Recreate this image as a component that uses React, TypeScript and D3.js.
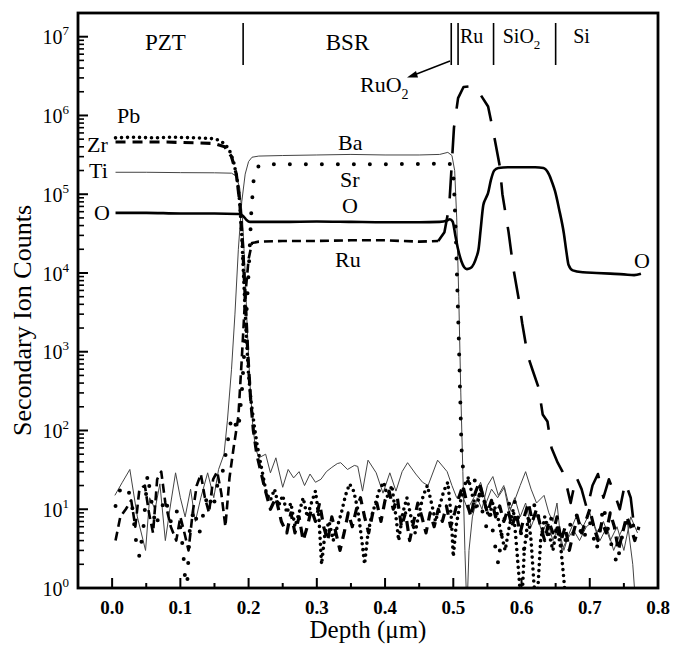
import React from "react";
import * as d3 from "d3";

type Pt = [number, number];

// depth (um), counts
const pb: Pt[] = [
  [0.005, 5.2e5], [0.03, 5.3e5], [0.06, 5.2e5], [0.09, 5.3e5], [0.12, 5.2e5], [0.145, 5.1e5],
  [0.155, 4.9e5], [0.165, 4.4e5], [0.172, 3.6e5], [0.178, 2.6e5], [0.183, 1.6e5], [0.187, 8e4],
  [0.19, 3e4], [0.193, 8e3], [0.196, 2e3], [0.2, 500], [0.204, 220], [0.208, 120], [0.212, 70],
  [0.216, 45], [0.22, 30], [0.226, 16], [0.232, 13], [0.238, 18], [0.244, 11], [0.25, 15],
  [0.256, 9], [0.262, 12], [0.268, 6], [0.274, 9], [0.28, 14], [0.286, 8], [0.292, 12],
  [0.298, 17], [0.303, 8], [0.307, 2], [0.312, 5], [0.318, 7], [0.324, 4], [0.33, 6], [0.336, 9],
  [0.342, 15], [0.348, 21], [0.354, 17], [0.36, 10], [0.366, 4], [0.37, 2], [0.375, 5], [0.38, 8],
  [0.386, 12], [0.392, 18], [0.398, 22], [0.404, 14], [0.41, 20], [0.416, 8], [0.42, 4], [0.426, 9],
  [0.432, 14], [0.438, 8], [0.444, 5], [0.45, 9], [0.456, 15], [0.462, 20], [0.468, 12], [0.474, 7],
  [0.48, 11], [0.486, 17], [0.492, 22], [0.497, 8], [0.5, 2.5], [0.504, 6], [0.51, 12], [0.516, 20],
  [0.522, 25], [0.528, 15], [0.534, 10], [0.54, 18], [0.546, 12], [0.552, 8], [0.558, 12], [0.564, 9],
  [0.57, 5], [0.576, 3], [0.582, 6], [0.588, 10], [0.592, 4], [0.596, 1.5], [0.6, 0.5], [0.604, 3],
  [0.61, 8], [0.614, 4], [0.618, 1.2], [0.622, 0.5], [0.628, 4], [0.634, 8], [0.64, 5], [0.646, 3],
  [0.652, 6], [0.658, 3], [0.662, 1.3], [0.666, 0.5],
];

const zr: Pt[] = [
  [0.005, 4.6e5], [0.04, 4.6e5], [0.08, 4.6e5], [0.12, 4.5e5], [0.15, 4.4e5], [0.165, 4.0e5],
  [0.175, 3.0e5], [0.182, 1.8e5], [0.187, 8e4], [0.191, 2.5e4], [0.195, 5e3], [0.199, 900],
  [0.203, 250], [0.207, 100], [0.212, 50], [0.218, 30], [0.224, 18], [0.232, 10], [0.24, 14],
  [0.248, 7], [0.256, 5], [0.262, 9], [0.268, 5], [0.274, 8], [0.28, 4], [0.286, 6], [0.292, 10],
  [0.298, 7], [0.304, 12], [0.31, 6], [0.316, 4], [0.322, 8], [0.328, 5], [0.334, 3], [0.34, 5],
  [0.346, 9], [0.352, 6], [0.358, 10], [0.364, 14], [0.37, 8], [0.376, 5], [0.382, 9], [0.388, 12],
  [0.394, 7], [0.4, 13], [0.406, 17], [0.412, 10], [0.418, 14], [0.424, 6], [0.43, 9], [0.436, 4],
  [0.442, 7], [0.448, 12], [0.454, 8], [0.46, 5], [0.466, 9], [0.472, 6], [0.478, 10], [0.484, 7],
  [0.49, 11], [0.496, 6], [0.502, 9], [0.508, 14], [0.514, 20], [0.52, 12], [0.526, 8], [0.532, 16],
  [0.538, 22], [0.544, 14], [0.55, 9], [0.556, 13], [0.562, 8], [0.568, 11], [0.574, 7], [0.58, 10],
  [0.586, 6], [0.592, 9], [0.598, 5], [0.604, 8], [0.61, 12], [0.616, 7], [0.622, 10], [0.628, 6],
  [0.634, 4], [0.64, 7], [0.646, 5], [0.652, 8], [0.658, 4], [0.664, 6], [0.67, 3], [0.676, 5],
  [0.682, 8], [0.688, 5], [0.694, 7], [0.7, 10], [0.706, 6], [0.712, 4], [0.718, 7], [0.724, 5],
  [0.73, 9], [0.736, 6], [0.742, 3], [0.748, 5], [0.754, 8], [0.76, 6], [0.766, 4], [0.772, 6],
];

const ti: Pt[] = [
  [0.005, 1.9e5], [0.05, 1.9e5], [0.1, 1.88e5], [0.15, 1.87e5], [0.175, 1.85e5], [0.182, 1.7e5],
  [0.187, 1.2e5], [0.191, 5e4], [0.195, 1e4], [0.198, 2e3], [0.202, 400], [0.206, 120], [0.21, 60],
  [0.215, 45], [0.225, 50], [0.232, 29], [0.24, 45], [0.25, 19], [0.258, 32], [0.266, 25],
  [0.274, 30], [0.282, 20], [0.29, 28], [0.298, 22], [0.306, 24], [0.314, 30], [0.322, 34],
  [0.33, 38], [0.335, 39], [0.345, 32], [0.355, 36], [0.36, 35], [0.367, 17], [0.375, 42],
  [0.387, 29], [0.397, 16], [0.407, 29], [0.416, 17], [0.425, 30], [0.433, 39], [0.445, 28],
  [0.455, 22], [0.463, 20], [0.477, 42], [0.491, 30], [0.498, 20], [0.505, 14], [0.512, 16],
  [0.521, 10], [0.53, 14], [0.54, 22], [0.548, 12], [0.556, 18], [0.565, 14], [0.575, 19],
  [0.583, 10], [0.59, 13], [0.598, 20], [0.606, 30], [0.614, 18], [0.622, 12], [0.633, 15],
  [0.64, 9], [0.646, 7], [0.652, 12], [0.659, 3], [0.666, 4], [0.676, 5.5], [0.685, 4], [0.695, 6],
  [0.705, 7], [0.715, 4], [0.725, 6], [0.735, 3], [0.745, 5], [0.755, 7], [0.763, 2], [0.768, 0.5],
];

const ba: Pt[] = [
  [0.004, 15], [0.015, 22], [0.026, 32], [0.037, 8], [0.049, 3], [0.055, 14], [0.063, 10],
  [0.07, 21], [0.078, 4], [0.086, 12], [0.093, 29], [0.1, 14], [0.107, 8], [0.115, 18], [0.122, 7],
  [0.13, 14], [0.14, 29], [0.149, 14], [0.156, 32], [0.164, 50], [0.169, 135], [0.175, 600],
  [0.18, 3000], [0.185, 2e4], [0.19, 8e4], [0.195, 1.8e5], [0.2, 2.6e5], [0.205, 2.95e5],
  [0.215, 3.05e5], [0.25, 3.1e5], [0.3, 3.15e5], [0.35, 3.2e5], [0.4, 3.15e5], [0.45, 3.15e5],
  [0.48, 3.2e5], [0.492, 3.4e5], [0.498, 3.1e5], [0.502, 2e5], [0.505, 5e4], [0.508, 5e3],
  [0.511, 300], [0.514, 30], [0.517, 3], [0.52, 0.5], [0.523, 3], [0.528, 8], [0.535, 14],
  [0.542, 10], [0.55, 20], [0.558, 26], [0.566, 15], [0.574, 20], [0.582, 9], [0.59, 14],
  [0.598, 8], [0.606, 12], [0.614, 6], [0.622, 9], [0.63, 5], [0.638, 7], [0.646, 4], [0.654, 6],
  [0.662, 3], [0.67, 5], [0.68, 8], [0.69, 6], [0.7, 9], [0.71, 5], [0.72, 7], [0.73, 4],
  [0.74, 6], [0.75, 3], [0.76, 8], [0.77, 5],
];

const sr: Pt[] = [
  [0.005, 11], [0.012, 18], [0.02, 20], [0.028, 14], [0.035, 4], [0.04, 2.5], [0.046, 6],
  [0.052, 28], [0.058, 12], [0.064, 6], [0.07, 9], [0.078, 14], [0.086, 7], [0.094, 10], [0.1, 6],
  [0.104, 3], [0.107, 1.3], [0.11, 1.1], [0.114, 6], [0.12, 10], [0.128, 5], [0.134, 9], [0.14, 16],
  [0.148, 10], [0.155, 22], [0.162, 30], [0.168, 60], [0.175, 150], [0.185, 100], [0.19, 300],
  [0.195, 1500], [0.2, 1e4], [0.204, 6e4], [0.208, 1.8e5], [0.215, 2.3e5], [0.23, 2.4e5],
  [0.3, 2.4e5], [0.4, 2.4e5], [0.49, 2.45e5], [0.497, 2.4e5], [0.5, 1.8e5], [0.502, 8e4],
  [0.504, 2.5e4], [0.506, 6e3], [0.508, 1.5e3], [0.51, 300], [0.512, 60], [0.514, 35], [0.518, 30],
  [0.523, 20], [0.53, 25], [0.536, 18], [0.542, 10], [0.548, 6], [0.554, 9], [0.56, 4], [0.566, 2],
  [0.572, 6], [0.58, 11], [0.588, 15], [0.596, 7], [0.604, 3], [0.612, 8], [0.62, 12], [0.628, 6],
  [0.636, 4], [0.644, 8], [0.652, 5], [0.66, 3], [0.67, 6], [0.68, 9], [0.69, 4], [0.7, 7],
  [0.71, 3], [0.72, 11], [0.73, 4], [0.74, 2], [0.75, 6], [0.76, 8], [0.77, 4],
];

// Ru: PZT background + BSR level, then the Ru/RuO2 peak
const ruBsr: Pt[] = [
  [0.005, 4], [0.012, 8], [0.02, 10], [0.028, 13], [0.034, 6], [0.04, 18], [0.048, 20], [0.054, 9],
  [0.06, 5], [0.066, 24], [0.072, 30], [0.078, 12], [0.086, 6], [0.094, 4], [0.1, 8], [0.106, 5],
  [0.112, 3], [0.118, 9], [0.124, 20], [0.13, 28], [0.136, 14], [0.142, 9], [0.148, 24],
  [0.154, 30], [0.16, 16], [0.166, 6], [0.172, 25], [0.178, 60], [0.185, 150], [0.19, 800],
  [0.195, 5e3], [0.2, 1.5e4], [0.205, 2.4e4], [0.215, 2.5e4], [0.25, 2.55e4], [0.3, 2.55e4],
  [0.35, 2.6e4], [0.4, 2.6e4], [0.45, 2.5e4], [0.478, 2.55e4],
];

const ruPeak: Pt[] = [
  [0.478, 2.55e4], [0.487, 3.3e4], [0.494, 7e4], [0.501, 7e5], [0.507, 1.66e6], [0.515, 2.3e6],
  [0.526, 2.35e6], [0.534, 2.2e6], [0.551, 1.3e6], [0.559, 6e5], [0.568, 2.3e5], [0.572, 1e5],
  [0.581, 3.3e4], [0.588, 1.15e4], [0.596, 4.6e3], [0.601, 2.3e3], [0.609, 900], [0.616, 590],
  [0.625, 350], [0.631, 160], [0.638, 130], [0.644, 60], [0.653, 39], [0.66, 30], [0.665, 22],
  [0.672, 12], [0.68, 26], [0.688, 18], [0.696, 10], [0.704, 20], [0.712, 28], [0.72, 14],
  [0.728, 24], [0.736, 16], [0.744, 10], [0.752, 22], [0.76, 14], [0.765, 6], [0.77, 7],
];

const oxygen: Pt[] = [
  [0.005, 5.8e4], [0.05, 5.8e4], [0.1, 5.7e4], [0.15, 5.7e4], [0.185, 5.6e4], [0.192, 5.3e4],
  [0.197, 4.7e4], [0.202, 4.45e4], [0.25, 4.45e4], [0.3, 4.5e4], [0.35, 4.45e4], [0.4, 4.4e4],
  [0.45, 4.4e4], [0.48, 4.45e4], [0.49, 4.6e4], [0.495, 4.8e4], [0.499, 4.5e4], [0.503, 3e4],
  [0.507, 2e4], [0.512, 1.4e4], [0.516, 1.18e4], [0.52, 1.12e4], [0.525, 1.15e4], [0.53, 1.3e4],
  [0.534, 1.6e4], [0.537, 2e4], [0.54, 3.5e4], [0.544, 7.3e4], [0.548, 9e4], [0.551, 1.04e5],
  [0.555, 1.5e5], [0.56, 2e5], [0.566, 2.15e5], [0.58, 2.2e5], [0.6, 2.2e5], [0.62, 2.2e5],
  [0.632, 2.15e5], [0.64, 1.8e5], [0.645, 1.4e5], [0.649, 1.1e5], [0.655, 6.5e4], [0.662, 3.2e4],
  [0.666, 1.8e4], [0.669, 1.26e4], [0.675, 1.08e4], [0.69, 1.02e4], [0.71, 1.0e4], [0.73, 9.8e3],
  [0.75, 9.6e3], [0.765, 9.4e3], [0.775, 9.8e3],
];

const xTicks = [0, 0.1, 0.2, 0.3, 0.4, 0.5, 0.6, 0.7, 0.8];
const decades = [0, 1, 2, 3, 4, 5, 6, 7];
const layerBounds = [0.192, 0.497, 0.507, 0.559, 0.65];
const layerNames = [
  { name: "PZT", x: 0.078, sub: "" },
  { name: "BSR", x: 0.345, sub: "" },
  { name: "Ru", x: 0.527, sub: "" },
  { name: "SiO", x: 0.6, sub: "2" },
  { name: "Si", x: 0.688, sub: "" },
];

const W = 673, H = 648;
const L = 78, R = 658, T = 13, B = 588;

const x = d3.scaleLinear().domain([-0.05, 0.8]).range([L, R]);
const y = d3.scaleLog().domain([1, 2e7]).range([B, T]);

const line = d3.line<Pt>()
  .x(d => x(d[0]))
  .y(d => y(Math.max(d[1], 0.2)));

const smooth = d3.line<Pt>()
  .x(d => x(d[0]))
  .y(d => y(d[1]))
  .curve(d3.curveMonotoneX);

const font = "'Liberation Serif', 'Times New Roman', serif";

export default function App() {
  const minorY: number[] = [];
  decades.slice(0, -1).forEach(k => {
    for (let m = 2; m <= 9; m++) minorY.push(m * 10 ** k);
  });
  const minorX = d3.range(-0.05, 0.8, 0.1).filter(v => v > -0.04);

  const series = [
    { d: ti, stroke: "#444", w: 1, dash: undefined as string | undefined, cap: "butt" },
    { d: ba, stroke: "#444", w: 1, dash: undefined, cap: "butt" },
    { d: sr, stroke: "#000", w: 4, dash: "0 16", cap: "round" },
    { d: pb, stroke: "#000", w: 3.6, dash: "0 6", cap: "round" },
    { d: zr, stroke: "#000", w: 3.2, dash: "10 7", cap: "butt" },
    { d: ruBsr, stroke: "#000", w: 2.6, dash: "9 5", cap: "butt" },
    { d: ruPeak, stroke: "#000", w: 2.6, dash: "28 17", cap: "butt" },
  ];

  return (
    <svg width={W} height={H} style={{ position: "absolute", left: 0, top: 0, background: "#fff" }}
      fontFamily={font}>
      <defs>
        <clipPath id="plot">
          <rect x={L} y={T} width={R - L} height={B - T} />
        </clipPath>
      </defs>
      <rect width={W} height={H} fill="#fff" />

      <g clipPath="url(#plot)" fill="none">
        {series.map((s, i) => (
          <path key={i} d={line(s.d) || ""} stroke={s.stroke} strokeWidth={s.w}
            strokeDasharray={s.dash} strokeLinecap={s.cap as any} strokeLinejoin="round" />
        ))}
        <path d={smooth(oxygen) || ""} stroke="#000" strokeWidth={2.6} />
      </g>

      {/* frame */}
      <rect x={L} y={T} width={R - L} height={B - T} fill="none" stroke="#000" strokeWidth={2.8} />

      {/* y ticks */}
      {decades.map(k => (
        <g key={k}>
          <line x1={L} x2={L + 10} y1={y(10 ** k)} y2={y(10 ** k)} stroke="#000" strokeWidth={2} />
          <text x={69} y={y(10 ** k)} dy="0.38em" textAnchor="end" fontSize={20}>
            10<tspan dy={-9} fontSize={13}>{k}</tspan>
          </text>
        </g>
      ))}
      {minorY.map((v, i) => (
        <line key={i} x1={L} x2={L + 6} y1={y(v)} y2={y(v)} stroke="#000" strokeWidth={1.6} />
      ))}

      {/* x ticks */}
      {xTicks.map(t => (
        <g key={t}>
          <line x1={x(t)} x2={x(t)} y1={B} y2={B - 10} stroke="#000" strokeWidth={2} />
          <text x={x(t)} y={614} textAnchor="middle" fontSize={19} fontWeight="bold">
            {d3.format(".1f")(t)}
          </text>
        </g>
      ))}
      {minorX.map((t, i) => (
        <line key={i} x1={x(t)} x2={x(t)} y1={B} y2={B - 5} stroke="#000" strokeWidth={2} />
      ))}

      {/* axis titles */}
      <text x={368} y={638} textAnchor="middle" fontSize={25}>Depth (μm)</text>
      <text transform={`translate(31,${(T + B) / 2 + 20}) rotate(-90)`} textAnchor="middle" fontSize={26}>
        Secondary Ion Counts
      </text>

      {/* layer labels */}
      {layerBounds.map((b, i) => (
        <line key={i} x1={x(b)} x2={x(b)} y1={23} y2={65} stroke="#000" strokeWidth={1.6} />
      ))}
      {layerNames.map((l, i) => (
        <text key={l.name} x={x(l.x)} y={i < 2 ? 50 : 43} textAnchor="middle" fontSize={i < 2 ? 23 : 20}>
          {l.name}
          {l.sub && <tspan dy={6} fontSize={13}>{l.sub}</tspan>}
        </text>
      ))}

      {/* RuO2 arrow */}
      <line x1={450} y1={61} x2={414} y2={75} stroke="#000" strokeWidth={1.4} />
      <path d="M407,77.5 L416,71 L418,77.5 Z" fill="#000" />
      <text x={360} y={92} fontSize={22}>RuO<tspan dy={7} fontSize={14}>2</tspan></text>

      {/* species labels */}
      <g fontSize={22}>
        <text x={117} y={123}>Pb</text>
        <text x={87} y={152}>Zr</text>
        <text x={89} y={178}>Ti</text>
        <text x={94} y={220}>O</text>
        <text x={338} y={150}>Ba</text>
        <text x={340} y={187}>Sr</text>
        <text x={342} y={213}>O</text>
        <text x={335} y={267}>Ru</text>
        <text x={634} y={268}>O</text>
      </g>
    </svg>
  );
}
